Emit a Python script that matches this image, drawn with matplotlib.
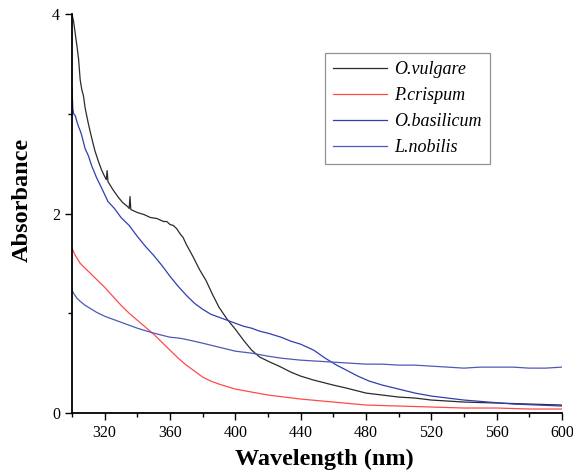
import matplotlib
matplotlib.use("Agg")
import matplotlib.pyplot as plt

# wavelength (nm) / absorbance
vulgare_x = [300, 301, 302, 303, 304, 305, 306, 307, 308, 310, 312, 314, 316, 318, 320, 321,
             321.5, 322, 325, 328, 331, 334, 335, 335.5, 336, 340, 344, 348, 352, 356, 358, 360, 362,
             364, 366, 368, 370, 374, 378, 382, 386, 390, 395, 400, 405, 410, 415, 420, 428, 434, 440,
             448, 460, 468, 480, 490, 500, 510, 520, 540, 560, 580, 600]
vulgare_y = [4.00, 3.92, 3.80, 3.68, 3.55, 3.34, 3.24, 3.18, 3.06, 2.90, 2.76, 2.63, 2.53, 2.44,
             2.37, 2.34, 2.43, 2.32, 2.24, 2.17, 2.11, 2.07, 2.05, 2.17, 2.04, 2.01, 1.99, 1.96, 1.95,
             1.92, 1.92, 1.89, 1.88, 1.85, 1.80, 1.76, 1.69, 1.57, 1.44, 1.33, 1.19, 1.06, 0.94, 0.84,
             0.73, 0.63, 0.56, 0.52, 0.46, 0.41, 0.37, 0.33, 0.28, 0.25, 0.20, 0.18, 0.16, 0.15, 0.13,
             0.11, 0.10, 0.09, 0.08]

crispum_x = [300, 302, 305, 310, 315, 320, 325, 330, 335, 340, 345, 350, 355, 360, 365, 370, 375, 380,
             385, 390, 400, 410, 420, 430, 440, 460, 480, 500, 520, 540, 560, 580, 600]
crispum_y = [1.65, 1.58, 1.50, 1.42, 1.34, 1.26, 1.17, 1.08, 1.00, 0.93, 0.86, 0.79, 0.71, 0.63, 0.55,
             0.48, 0.42, 0.36, 0.32, 0.29, 0.24, 0.21, 0.18, 0.16, 0.14, 0.11, 0.08, 0.07, 0.06, 0.05,
             0.05, 0.04, 0.04]

basilicum_x = [300, 300.5, 301, 302, 303, 304, 305, 306, 308, 310, 312, 315, 318, 322, 326, 330, 335,
               340, 345, 350, 355, 360, 365, 370, 375, 380, 385, 390, 395, 400, 405, 410, 415, 420, 428,
               434, 440, 448, 455, 462, 468, 475, 482, 490, 500, 510, 520, 530, 540, 555, 570, 585, 600]
basilicum_y = [3.25, 3.05, 3.00, 2.98, 2.92, 2.87, 2.83, 2.78, 2.65, 2.58, 2.48, 2.36, 2.26, 2.12, 2.05,
               1.96, 1.88, 1.77, 1.67, 1.58, 1.48, 1.37, 1.27, 1.18, 1.10, 1.04, 0.99, 0.96, 0.93, 0.90,
               0.87, 0.85, 0.82, 0.80, 0.76, 0.72, 0.69, 0.63, 0.55, 0.48, 0.43, 0.37, 0.32, 0.28, 0.24,
               0.20, 0.17, 0.15, 0.13, 0.11, 0.09, 0.08, 0.07]

nobilis_x = [300, 301, 303, 305, 308, 311, 315, 320, 325, 330, 335, 340, 348, 355, 360, 366, 372, 380,
             390, 400, 410, 420, 428, 440, 450, 460, 470, 480, 490, 500, 510, 520, 530, 540, 550, 560,
             570, 580, 590, 600]
nobilis_y = [1.23, 1.20, 1.15, 1.12, 1.08, 1.05, 1.01, 0.97, 0.94, 0.91, 0.88, 0.85, 0.81, 0.78, 0.76,
             0.75, 0.73, 0.70, 0.66, 0.62, 0.60, 0.57, 0.55, 0.53, 0.52, 0.51, 0.50, 0.49, 0.49, 0.48,
             0.48, 0.47, 0.46, 0.45, 0.46, 0.46, 0.46, 0.45, 0.45, 0.46]

plt.rcParams['font.family'] = ['Liberation Serif', 'DejaVu Serif']

fig = plt.figure(figsize=(5.73, 4.75), dpi=100)
ax = fig.add_axes([0.1257, 0.1305, 0.855, 0.84])

ax.plot(vulgare_x, vulgare_y, color='#2b2b2b', lw=0.9, label='O.vulgare')
ax.plot(crispum_x, crispum_y, color='#ff4a4a', lw=0.9, label='P.crispum')
ax.plot(basilicum_x, basilicum_y, color='#2f3fae', lw=0.9, label='O.basilicum')
ax.plot(nobilis_x, nobilis_y, color='#5058b6', lw=0.9, label='L.nobilis')

ax.set_xlim(300, 600)
ax.set_ylim(0, 4)
ax.set_xticks(range(320, 601, 40))
ax.set_xticks(range(300, 601, 40), minor=True)
ax.set_yticks([0, 2, 4])
ax.set_yticks([1, 3], minor=True)
ax.tick_params(which='both', direction='out', labelsize=11.5, width=1)
ax.tick_params(which='major', length=5)
ax.tick_params(which='minor', length=3)

for s in ['top', 'right']:
    ax.spines[s].set_visible(False)
for s in ['left', 'bottom']:
    ax.spines[s].set_linewidth(1.3)

ax.set_xlabel('Wavelength (nm)', fontsize=17.5, fontweight='bold')
ax.set_ylabel('Absorbance', fontsize=17.5, fontweight='bold')
ax.xaxis.set_label_coords(0.516, -0.09)
ax.yaxis.set_label_coords(-0.08, 0.534)

leg = ax.legend(loc='upper left', bbox_to_anchor=(0.516, 0.902), borderaxespad=0,
                fancybox=False, edgecolor='#777777', prop={'style': 'italic', 'size': 13},
                handlelength=3.0, handletextpad=0.4, borderpad=0.45, labelspacing=0.5)
leg.get_frame().set_linewidth(0.9)

fig.savefig('out.png', dpi=100)
